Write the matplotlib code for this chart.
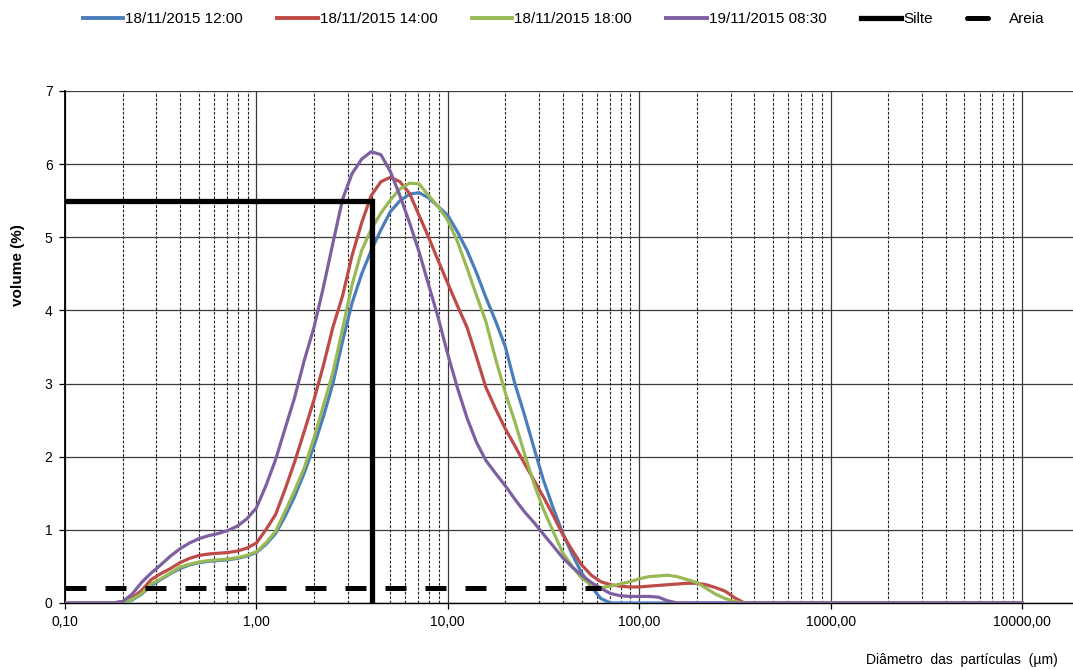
import matplotlib
matplotlib.use("Agg")
import matplotlib.pyplot as plt
from matplotlib.lines import Line2D
from matplotlib.ticker import FixedLocator, FixedFormatter, LogLocator, NullFormatter

plt.rcParams['font.family'] = ['Liberation Sans', 'DejaVu Sans']

# Particle diameter classes (µm), log-spaced bins, plus the upper end of the scale
diametros = [
    0.100, 0.112, 0.126, 0.141, 0.158, 0.178, 0.200, 0.224, 0.251, 0.282,
    0.316, 0.355, 0.398, 0.447, 0.501, 0.562, 0.631, 0.708, 0.794, 0.891,
    1.00, 1.12, 1.26, 1.41, 1.58, 1.78, 2.00, 2.24, 2.51, 2.82,
    3.16, 3.55, 3.98, 4.47, 5.01, 5.62, 6.31, 7.08, 7.94, 8.91,
    10.0, 11.2, 12.6, 14.1, 15.8, 17.8, 20.0, 22.4, 25.1, 28.2,
    31.6, 35.5, 39.8, 44.7, 50.1, 56.2, 63.1, 70.8, 79.4, 89.1,
    100, 112, 126, 141, 158, 178, 200, 224, 251, 282,
    316, 355, 398, 10000,
]

# Volume fraction (%) per class for each sampling time
vol_1811_1200 = [
    0, 0, 0, 0, 0, 0, 0.01, 0.04, 0.12, 0.24,
    0.32, 0.40, 0.47, 0.52, 0.55, 0.57, 0.58, 0.59, 0.61, 0.64,
    0.69, 0.80, 0.95, 1.18, 1.45, 1.78, 2.15, 2.55, 3.00, 3.58,
    4.10, 4.50, 4.82, 5.10, 5.35, 5.50, 5.59, 5.61, 5.54, 5.42,
    5.30, 5.08, 4.82, 4.52, 4.18, 3.85, 3.50, 3.00, 2.58, 2.12,
    1.68, 1.30, 0.96, 0.66, 0.41, 0.22, 0.06, 0, 0, 0,
    0, 0, 0, 0, 0, 0, 0, 0, 0, 0,
    0, 0, 0, 0,
]
vol_1811_1400 = [
    0, 0, 0, 0, 0, 0, 0.02, 0.07, 0.17, 0.32,
    0.40, 0.47, 0.55, 0.61, 0.65, 0.67, 0.68, 0.69, 0.71, 0.75,
    0.82, 1.00, 1.21, 1.55, 1.92, 2.35, 2.78, 3.25, 3.77, 4.20,
    4.75, 5.20, 5.57, 5.76, 5.82, 5.76, 5.60, 5.30, 5.00, 4.68,
    4.37, 4.07, 3.77, 3.37, 2.95, 2.65, 2.38, 2.15, 1.91, 1.68,
    1.45, 1.20, 0.94, 0.72, 0.52, 0.38, 0.29, 0.25, 0.23, 0.22,
    0.22, 0.23, 0.24, 0.25, 0.26, 0.27, 0.27, 0.25, 0.21, 0.16,
    0.07, 0, 0, 0,
]
vol_1811_1800 = [
    0, 0, 0, 0, 0, 0, 0.01, 0.05, 0.13, 0.26,
    0.33, 0.41, 0.49, 0.53, 0.56, 0.58, 0.59, 0.60, 0.62, 0.65,
    0.70, 0.82, 0.98, 1.25, 1.53, 1.85, 2.26, 2.70, 3.15, 3.75,
    4.35, 4.82, 5.11, 5.33, 5.51, 5.66, 5.74, 5.73, 5.57, 5.42,
    5.23, 4.95, 4.58, 4.21, 3.85, 3.33, 2.87, 2.48, 2.05, 1.63,
    1.28, 0.98, 0.69, 0.50, 0.34, 0.25, 0.21, 0.23, 0.26, 0.29,
    0.33, 0.36, 0.37, 0.38, 0.36, 0.32, 0.28, 0.20, 0.12, 0.06,
    0.02, 0, 0, 0,
]
vol_1911_0830 = [
    0, 0, 0, 0, 0, 0, 0.02, 0.12, 0.28, 0.41,
    0.52, 0.64, 0.74, 0.82, 0.88, 0.92, 0.95, 0.99, 1.05, 1.15,
    1.30, 1.60, 1.96, 2.38, 2.80, 3.32, 3.77, 4.32, 4.92, 5.52,
    5.87, 6.07, 6.17, 6.13, 5.90, 5.57, 5.20, 4.80, 4.35, 3.90,
    3.40, 2.95, 2.53, 2.20, 1.95, 1.77, 1.60, 1.42, 1.25, 1.10,
    0.94, 0.78, 0.62, 0.49, 0.38, 0.28, 0.20, 0.13, 0.10, 0.09,
    0.09, 0.09, 0.08, 0.03, 0, 0, 0, 0, 0, 0,
    0, 0, 0, 0,
]

series_labels = ["18/11/2015 12:00", "18/11/2015 14:00", "18/11/2015 18:00", "19/11/2015 08:30"]
series_values = [vol_1811_1200, vol_1811_1400, vol_1811_1800, vol_1911_0830]
series_colors = ["#4A7EBB", "#BE4B48", "#98B954", "#7D60A0"]

# Reference limits: silt (up to 4 µm) and sand (up to 63 µm)
silte_x = [0.1, 4, 4]
silte_y = [5.5, 5.5, 0]
areia_x = [0.1, 63]
areia_y = [0.2, 0.2]

tick_values = [0.1, 1, 10, 100, 1000, 10000]
tick_labels = ["0,10", "1,00", "10,00", "100,00", "1000,00", "10000,00"]

W, H = 1073, 670
fig = plt.figure(figsize=(W / 100, H / 100), dpi=100)
ax = fig.add_axes([65 / W, 1 - 603 / H, 1 - 65 / W, (603 - 91) / H])

for vals, lab, col in zip(series_values, series_labels, series_colors):
    ax.plot(diametros, vals, color=col, lw=2.3, label=lab, zorder=3,
            solid_joinstyle='round')

ax.plot(silte_x, silte_y, color='black', lw=3.8, label='Silte', zorder=5,
        solid_joinstyle='miter')
ax.plot(areia_x, areia_y, color='black', lw=3.6, label='Areia', zorder=5,
        linestyle=(0, (4.2, 3.8)), dash_capstyle='butt')

ax.set_xscale('log')
ax.set_xlim(0.1, 10 ** ((W - 65) / 191.4 - 1))
ax.set_ylim(0, 7)

ax.xaxis.set_major_locator(FixedLocator(tick_values))
ax.xaxis.set_major_formatter(FixedFormatter(tick_labels))
ax.xaxis.set_minor_locator(LogLocator(base=10, subs=range(2, 10), numticks=20))
ax.xaxis.set_minor_formatter(NullFormatter())
ax.set_yticks(range(0, 8))

ax.grid(which='major', axis='both', color='#3a3a3a', lw=0.9, linestyle='-', zorder=1)
ax.grid(which='minor', axis='x', color='#222222', lw=0.8, linestyle=(0, (2.5, 1.5)), zorder=1)
ax.set_axisbelow(True)

for side in ('top', 'right'):
    ax.spines[side].set_visible(False)
ax.spines['left'].set_color('black')
ax.spines['left'].set_linewidth(1.3)
ax.spines['bottom'].set_color('black')
ax.spines['bottom'].set_linewidth(1.0)

ax.tick_params(axis='both', which='major', direction='out', length=4, width=0.9,
               labelsize=10, colors='black', pad=5)
ax.tick_params(axis='x', which='minor', length=0)

fig.text(18 / W, 1 - 265 / H, "volume (%)", rotation=90, fontsize=11,
         fontweight='bold', ha='center', va='center')
fig.text(1058 / W, 1 - 660 / H, "Diâmetro  das  partículas  (µm)", fontsize=10,
         ha='right', va='center')

handles = [Line2D([0], [0], color=c, lw=2.8) for c in series_colors]
handles.append(Line2D([0], [0], color='black', lw=3.8))
handles.append(Line2D([0], [0], color='black', lw=3.6, linestyle=(0, (0.6, 0.4, 3.2, 5.0)),
                      dash_capstyle='round'))
fig.legend(handles, series_labels + ['Silte', 'Areia'], loc='center',
           bbox_to_anchor=(0.5256, 1 - 19 / H), ncol=6, frameon=False,
           fontsize=11, handlelength=2.65, handletextpad=0.12, columnspacing=2.25)

fig.savefig("out.png", dpi=100)
